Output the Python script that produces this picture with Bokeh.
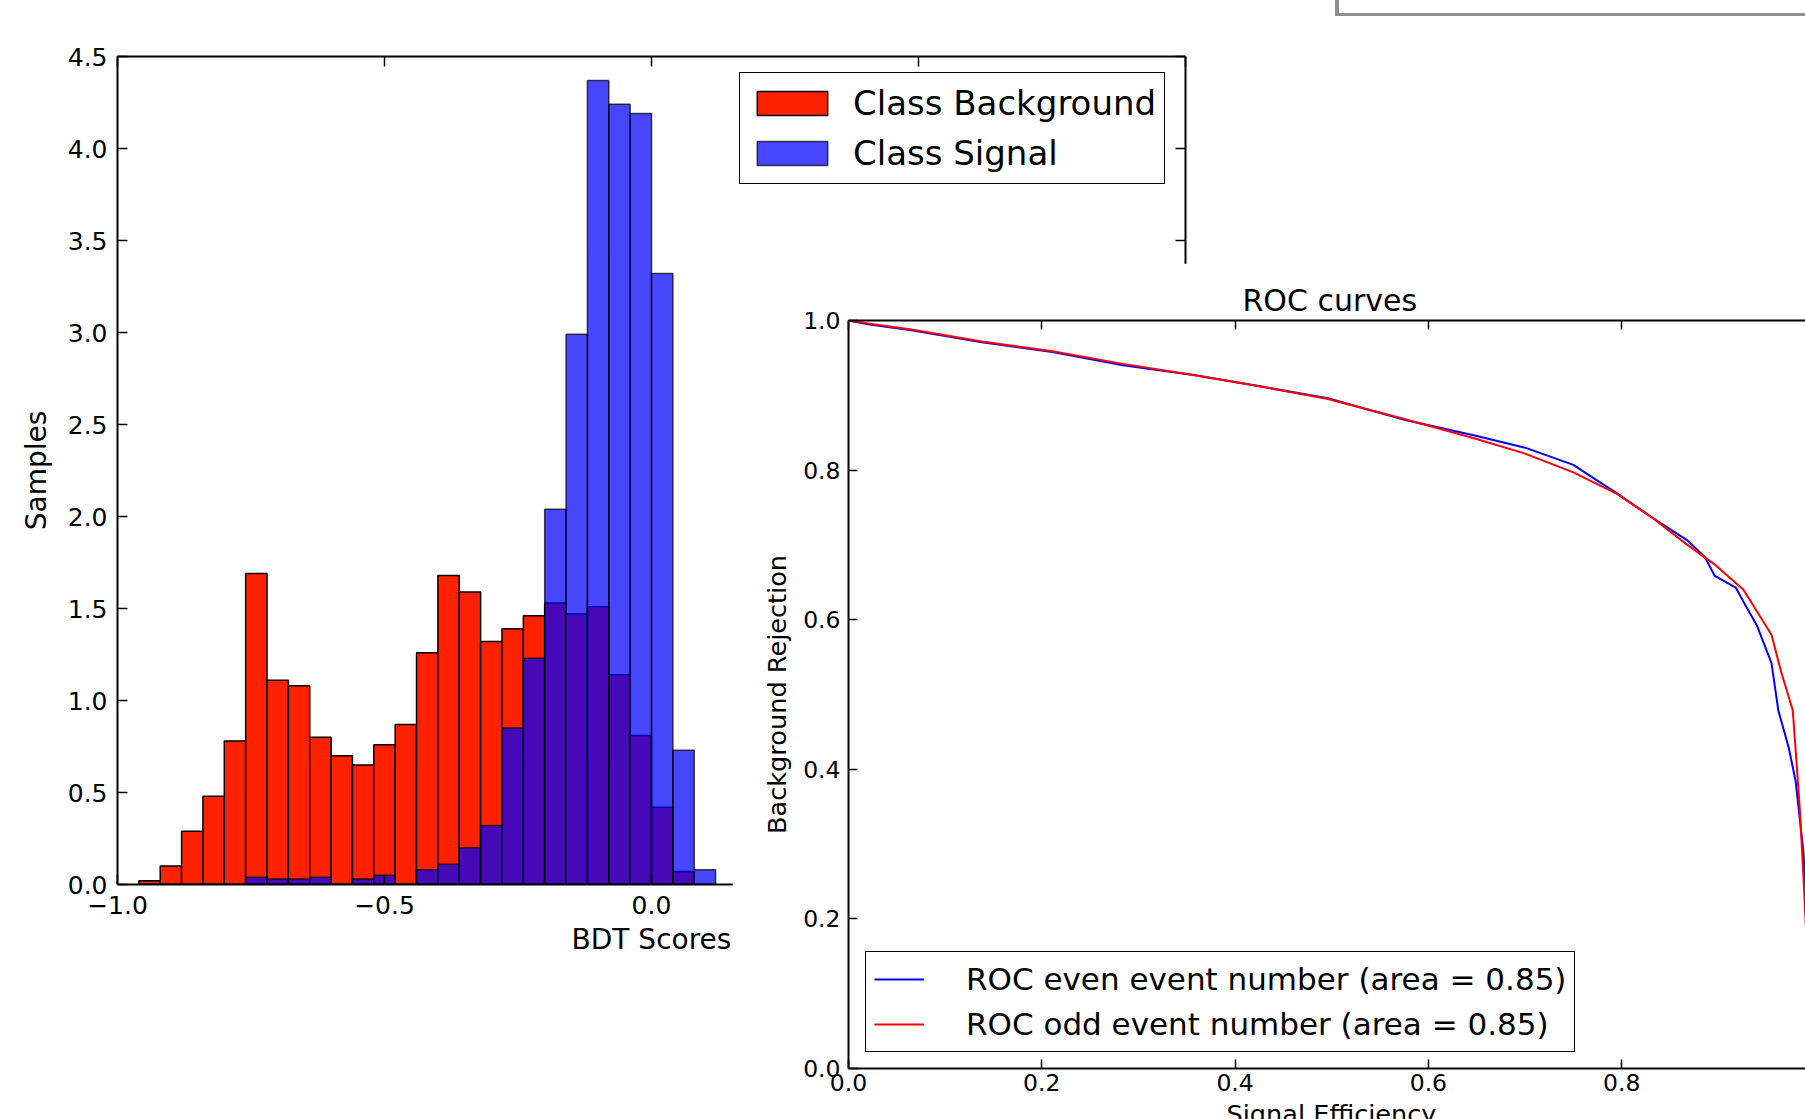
from bokeh.plotting import figure
from bokeh.models import (LinearAxis, FixedTicker, PrintfTickFormatter, CustomJSTickFormatter,
                          Legend, LegendItem, Div, Range1d, GridBox)
from bokeh.embed import file_html
from bokeh.resources import INLINE

FONT = "DejaVu Sans"

# ---------------- data: histogram of BDT scores ----------------
bin_edges = [-0.96, -0.92, -0.88, -0.84, -0.80, -0.76, -0.72, -0.68, -0.64, -0.60,
             -0.56, -0.52, -0.48, -0.44, -0.40, -0.36, -0.32, -0.28, -0.24, -0.20,
             -0.16, -0.12, -0.08, -0.04, 0.00, 0.04, 0.08, 0.12]
background_counts = [0.02, 0.10, 0.29, 0.48, 0.78, 1.69, 1.11, 1.08, 0.80, 0.70,
                     0.65, 0.76, 0.87, 1.26, 1.68, 1.59, 1.32, 1.39, 1.46, 1.53,
                     1.47, 1.51, 1.14, 0.81, 0.42, 0.07, 0.00]
signal_counts = [0.00, 0.00, 0.00, 0.00, 0.00, 0.04, 0.03, 0.03, 0.04, 0.00,
                 0.03, 0.05, 0.00, 0.08, 0.11, 0.20, 0.32, 0.85, 1.23, 2.04,
                 2.99, 4.37, 4.24, 4.19, 3.32, 0.73, 0.08]
hist_x_ticks = [-1.0, -0.5, 0.0, 0.5, 1.0]
hist_y_ticks = [0.0, 0.5, 1.0, 1.5, 2.0, 2.5, 3.0, 3.5, 4.0, 4.5]
hist_labels = ["Class Background", "Class Signal"]

# ---------------- data: ROC curves ----------------
roc_even_eff = [0.0, 0.02, 0.065, 0.138, 0.211, 0.284, 0.357, 0.430, 0.496, 0.576,
                0.649, 0.700, 0.750, 0.770, 0.794, 0.831, 0.868, 0.886, 0.896, 0.918,
                0.926, 0.940, 0.955, 0.962, 0.973, 0.980, 0.988, 0.992, 0.996, 1.0]
roc_even_rej = [1.0, 0.995, 0.987, 0.971, 0.958, 0.940, 0.927, 0.911, 0.896, 0.867,
                0.846, 0.830, 0.807, 0.790, 0.770, 0.737, 0.706, 0.684, 0.659, 0.643,
                0.624, 0.592, 0.542, 0.479, 0.428, 0.384, 0.290, 0.195, 0.080, 0.0]
roc_odd_eff = [0.0, 0.02, 0.065, 0.138, 0.211, 0.284, 0.357, 0.430, 0.496, 0.576,
               0.649, 0.700, 0.750, 0.794, 0.831, 0.868, 0.896, 0.926, 0.940, 0.955,
               0.965, 0.977, 0.984, 0.988, 0.992, 1.0]
roc_odd_rej = [1.0, 0.996, 0.988, 0.972, 0.959, 0.942, 0.927, 0.911, 0.895, 0.868,
               0.842, 0.822, 0.797, 0.769, 0.737, 0.700, 0.674, 0.640, 0.611, 0.580,
               0.530, 0.479, 0.353, 0.258, 0.150, 0.0]
roc_ticks = [0.0, 0.2, 0.4, 0.6, 0.8, 1.0]
roc_labels = ["ROC even event number (area = 0.85)", "ROC odd event number (area = 0.85)"]

BLANK = CustomJSTickFormatter(code="return '';")


def style_axis(ax, size, tick_in, label_size=None):
    ax.axis_line_width = 2
    ax.axis_line_color = "black"
    ax.major_tick_in = tick_in
    ax.major_tick_out = 0
    ax.major_tick_line_width = 1.5
    ax.major_tick_line_color = "black"
    ax.minor_tick_line_color = None
    ax.major_label_text_font = FONT
    ax.major_label_text_font_size = size
    ax.major_label_text_color = "black"
    ax.axis_label_text_font = FONT
    ax.axis_label_text_font_style = "normal"
    ax.axis_label_text_color = "black"
    if label_size:
        ax.axis_label_text_font_size = label_size


# ---------------- histogram figure (page origin) ----------------
p1 = figure(width=1215, height=969, x_range=Range1d(-1, 1), y_range=Range1d(0, 4.5),
            output_backend="svg", toolbar_location=None,
            x_axis_location=None, y_axis_location=None,
            min_border_left=117, min_border_right=30, min_border_top=56, min_border_bottom=85)
p1.outline_line_color = None
p1.grid.grid_line_color = None

xt = FixedTicker(ticks=hist_x_ticks)
yt = FixedTicker(ticks=hist_y_ticks)
xfmt = CustomJSTickFormatter(code="return tick.toFixed(1).replace('-', '\u2212');")

ax_b = LinearAxis(ticker=xt, formatter=xfmt, axis_label="BDT Scores")
style_axis(ax_b, "25px", 10, label_size="28px")
ax_b.major_label_standoff = 11
ax_b.axis_label_standoff = 6
ax_l = LinearAxis(ticker=yt, formatter=PrintfTickFormatter(format="%.1f"), axis_label="Samples")
style_axis(ax_l, "25px", 10, label_size="28px")
ax_l.major_label_standoff = 10
ax_l.axis_label_standoff = 12
ax_t = LinearAxis(ticker=xt, formatter=BLANK)
style_axis(ax_t, "25px", 10)
ax_t.major_label_standoff = 0
ax_r = LinearAxis(ticker=yt, formatter=BLANK)
style_axis(ax_r, "25px", 10)
ax_r.major_label_standoff = 0
p1.add_layout(ax_b, "below")
p1.add_layout(ax_l, "left")
p1.add_layout(ax_t, "above")
p1.add_layout(ax_r, "right")

r_bg = p1.quad(left=bin_edges[:-1], right=bin_edges[1:], top=background_counts, bottom=0,
               fill_color="#ff2200", line_color="black", line_width=1.5)
r_sig = p1.quad(left=bin_edges[:-1], right=bin_edges[1:], top=signal_counts, bottom=0,
                fill_color="#0000ff", fill_alpha=0.72, line_color="black", line_alpha=0.72,
                line_width=1.5)

leg1 = Legend(items=[LegendItem(label=hist_labels[0], renderers=[r_bg]),
                     LegendItem(label=hist_labels[1], renderers=[r_sig])],
              location=(622, 700), margin=0, padding=8, spacing=6,
              glyph_width=88, glyph_height=30, label_height=44, label_standoff=17,
              label_text_font=FONT, label_text_font_size="34px", label_text_color="black",
              border_line_color="black", border_line_alpha=1.0, border_line_width=1.5,
              background_fill_alpha=1.0)
p1.add_layout(leg1)

# ---------------- ROC figure (window at page x=732, y=263) ----------------
p2 = figure(width=1073, height=856, x_range=Range1d(0, 957 / 966.5), y_range=Range1d(0, 1),
            output_backend="svg", toolbar_location=None,
            x_axis_location=None, y_axis_location=None,
            min_border_left=116, min_border_right=0, min_border_top=57, min_border_bottom=51)
p2.outline_line_color = None
p2.grid.grid_line_color = None
p2.title.text = "ROC curves"
p2.title.align = "left"
p2.title.offset = 394
p2.title.standoff = 5
p2.title.text_font = FONT
p2.title.text_font_size = "30px"
p2.title.text_font_style = "normal"
p2.title.text_color = "black"

rt = FixedTicker(ticks=roc_ticks)
rfmt = PrintfTickFormatter(format="%.1f")
bx_b = LinearAxis(ticker=rt, formatter=rfmt)
style_axis(bx_b, "23.5px", 9)
bx_b.major_label_standoff = 5
bx_l = LinearAxis(ticker=rt, formatter=rfmt, axis_label="Background Rejection")
style_axis(bx_l, "23.5px", 9, label_size="25.6px")
bx_l.major_label_standoff = 8
bx_l.axis_label_standoff = 8
bx_t = LinearAxis(ticker=rt, formatter=BLANK)
style_axis(bx_t, "23.5px", 9)
bx_t.major_label_standoff = 0
p2.add_layout(bx_b, "below")
p2.add_layout(bx_l, "left")
p2.add_layout(bx_t, "above")

r_even = p2.line(roc_even_eff, roc_even_rej, line_color="#0000ff", line_width=2)
r_odd = p2.line(roc_odd_eff, roc_odd_rej, line_color="#ff0000", line_width=2)

leg2 = Legend(items=[LegendItem(label=roc_labels[0], renderers=[r_even]),
                     LegendItem(label=roc_labels[1], renderers=[r_odd])],
              location=(17, 16), margin=0, padding=8, spacing=7,
              glyph_width=50, glyph_height=38, label_height=38, label_standoff=42,
              label_text_font=FONT, label_text_font_size="31px", label_text_color="black",
              border_line_color="black", border_line_alpha=1.0, border_line_width=1.5,
              background_fill_alpha=1.0)
p2.add_layout(leg2)

# ---------------- extra page elements ----------------
grey = Div(text=('<div style="margin-left:120px;width:470px;height:16px;'
                 'border-left:4px solid #8f8f8f;border-bottom:3px solid #8f8f8f;'
                 'box-sizing:border-box"></div>'),
           margin=0)
xlab_roc = Div(text=('<div style="position:relative;width:1073px;height:150px;overflow:hidden">'
                     '<div style="position:absolute;left:0;top:133px;width:1199px;text-align:center;'
                     'font-family:\'DejaVu Sans\';font-size:25.6px;line-height:1;white-space:nowrap;'
                     'color:black">Signal Efficiency</div></div>'),
               margin=0)

children = [(p1, 0, 0, 2, 2), (grey, 0, 2, 1, 1), (p2, 1, 1, 2, 2), (xlab_roc, 2, 1, 1, 2)]
page = None
for rows, cols in ((["263px", "706px", "150px"], ["732px", "483px", "590px"]),
                   ([263, 706, 150], [732, 483, 590])):
    try:
        page = GridBox(children=children, rows=rows, cols=cols, spacing=0)
        break
    except Exception:
        page = None
if page is None:
    page = GridBox(children=children, spacing=0)

open("out.html", "w").write(file_html(page, INLINE))
